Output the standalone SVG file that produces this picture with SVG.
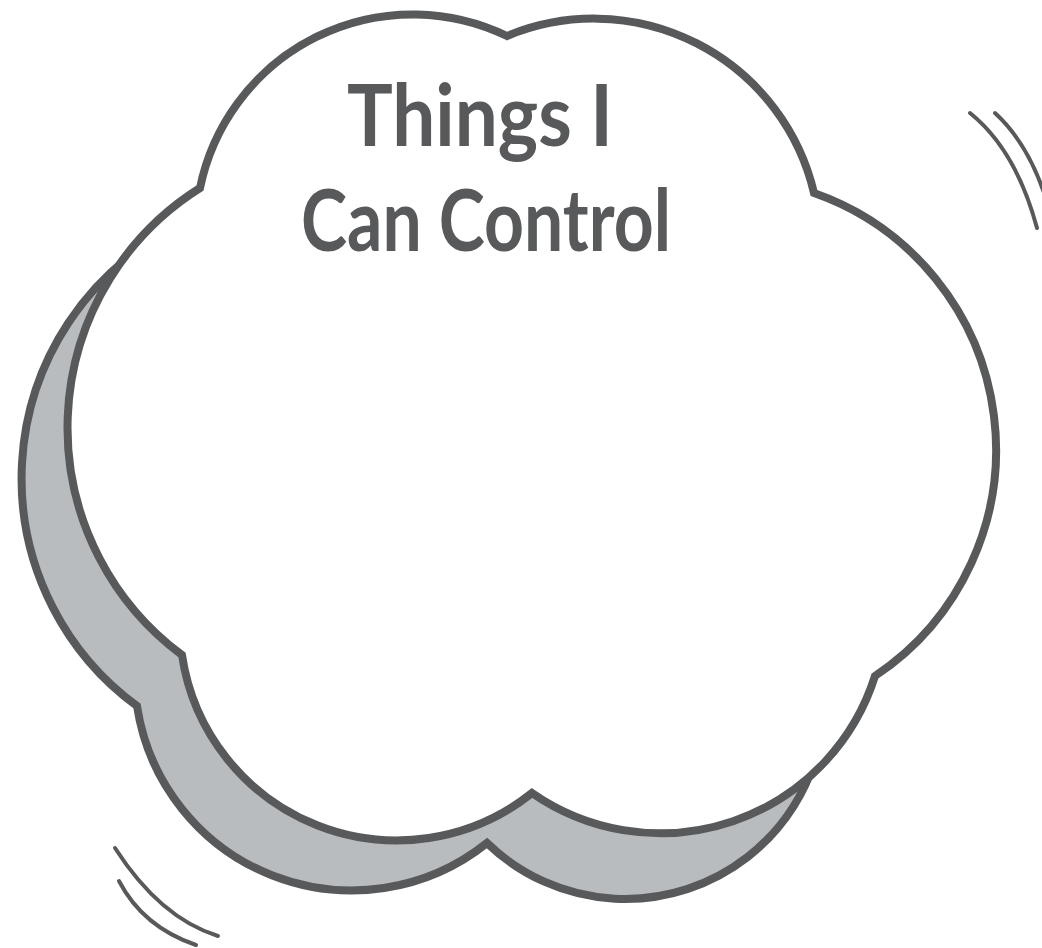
<svg xmlns="http://www.w3.org/2000/svg" width="1042" height="948" viewBox="0 0 1042 948">
<style>
.outline{stroke:#58595b;stroke-width:8;stroke-linejoin:miter}
.motion{fill:none;stroke:#58595b;stroke-width:4;stroke-linecap:round}
.title{font-family:Lato,"Open Sans",sans-serif;font-weight:700;font-size:86px;fill:#58595b;text-anchor:middle}
</style>
<rect width="1042" height="948" fill="#ffffff"/>
<g id="cloud-shadow">
<path class="outline" fill="#b9bcbf" d="M163 234 A282 282 0 0 0 137 706 A217 217 0 0 0 487 843 A199 199 0 0 0 798 601 Z"/>
</g>
<g id="cloud">
<path class="outline" fill="#ffffff" d="M200 188 A217 217 0 0 1 507 36 A226 226 0 0 1 814 193 A272 272 0 0 1 875 676 A225 225 0 0 1 532 793 A217 217 0 0 1 182 655 A283 283 0 0 1 200 188 Z"/>
</g>
<g id="title">
<text class="title" x="480" y="146" textLength="266" lengthAdjust="spacingAndGlyphs">Things I</text>
<text class="title" x="486" y="251" textLength="370" lengthAdjust="spacingAndGlyphs">Can Control</text>
</g>
<g id="motion-lines">
<path class="motion" d="M970 113 Q1016 150 1037 228"/>
<path class="motion" d="M995 113 Q1030 145 1048 205"/>
<path class="motion" d="M115 848 Q160 918 218 936"/>
<path class="motion" d="M119 881 Q143 927 196 945"/>
</g>
</svg>
